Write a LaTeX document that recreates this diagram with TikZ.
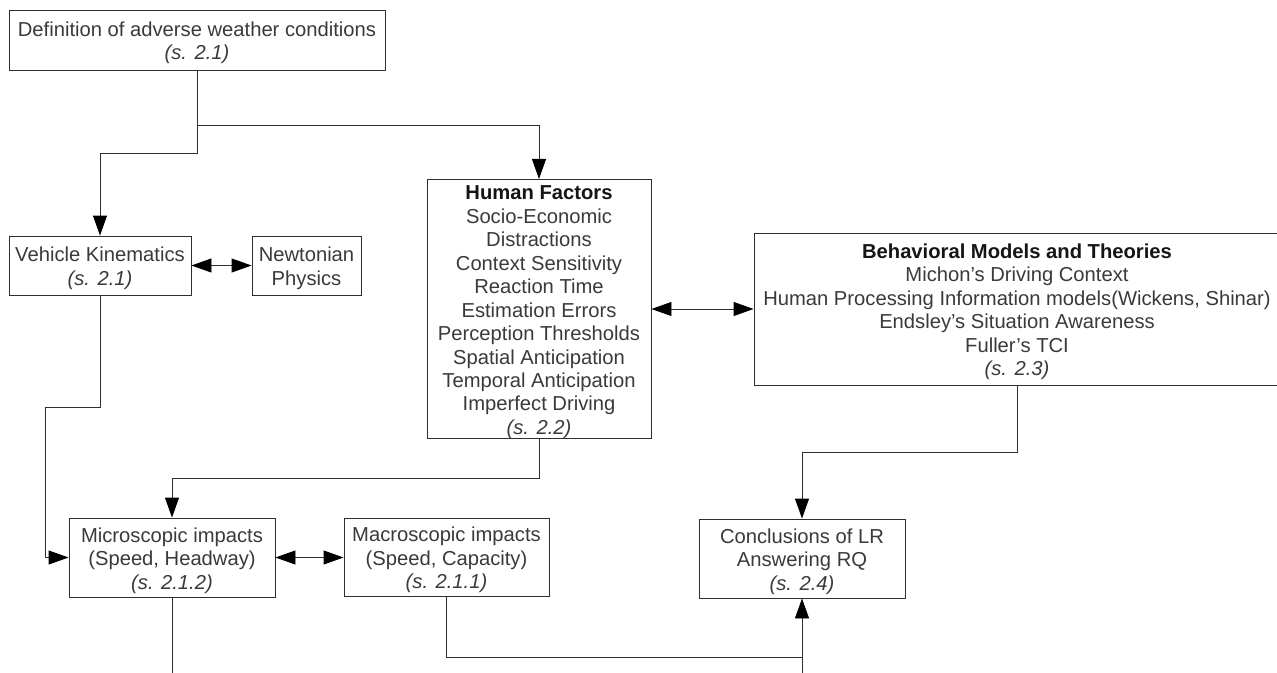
\documentclass[tikz,border=0pt]{standalone}
\usepackage{fontspec}
\setmainfont{Liberation Sans}
\usetikzlibrary{arrows.meta}
\definecolor{txt}{HTML}{3A3A3A}
\definecolor{ttl}{HTML}{151515}
\definecolor{ln}{HTML}{2E2E2E}
\tikzset{
  box/.style={draw=ln, line width=0.9pt, rectangle, inner sep=0pt, align=center,
    text=txt, font=\fontsize{20.2}{23.45}\selectfont},
  conn/.style={draw=ln, line width=0.9pt},
  tip/.tip={Triangle[length=20pt,width=14pt,color=black]},
  arr/.style={conn, -tip},
  darr/.style={conn, tip-tip},
}
% first-line strut: lowers the text block slightly inside its box
\newcommand{\tstrut}{\rule{0pt}{20.5pt}}
\newcommand{\sref}[1]{\textit{(s. #1)}}
\newcommand{\ttlb}[1]{\textcolor{ttl}{\textbf{#1}}}
\begin{document}
\begin{tikzpicture}[x=1pt,y=-1pt]
\useasboundingbox (0,0) rectangle (1277,672);
\fill[white] (0,0) rectangle (1277,672);

% boxes
\node[box, minimum width=376pt, minimum height=60pt] (def) at (197,40)
  {\tstrut Definition of adverse weather conditions\\\sref{2.1}};
\node[box, minimum width=182pt, minimum height=59pt] (veh) at (100,265.5)
  {\tstrut Vehicle Kinematics\\\sref{2.1}};
\node[box, minimum width=109pt, minimum height=59pt] (newt) at (306.5,265.5)
  {\tstrut Newtonian\\Physics};
\node[box, minimum width=224pt, minimum height=258pt] (hf) at (539,309)
  {\tstrut\ttlb{Human Factors}\\Socio-Economic\\Distractions\\Context Sensitivity\\Reaction Time\\
   Estimation Errors\\Perception Thresholds\\Spatial Anticipation\\Temporal Anticipation\\
   Imperfect Driving\\\sref{2.2}};
\node[box, minimum width=526pt, minimum height=152pt] (beh) at (1017,309)
  {\tstrut\ttlb{Behavioral Models and Theories}\\Michon’s Driving Context\\
   Human Processing Information models(Wickens, Shinar)\\
   Endsley’s Situation Awareness\\Fuller’s TCI\\\sref{2.3}};
\node[box, minimum width=206pt, minimum height=79pt] (micro) at (172,557.5)
  {\tstrut Microscopic impacts\\(Speed, Headway)\\\sref{2.1.2}};
\node[box, minimum width=205pt, minimum height=78pt] (macro) at (446.5,557)
  {\tstrut Macroscopic impacts\\(Speed, Capacity)\\\sref{2.1.1}};
\node[box, minimum width=206pt, minimum height=79pt] (concl) at (802,558.5)
  {\tstrut Conclusions of LR\\Answering RQ\\\sref{2.4}};

% junction points of the routed connectors
\coordinate (j1) at (197,125);
\coordinate (j2) at (100,153);
\coordinate (k1) at (45,407);
\coordinate (k2) at (172,478);
\coordinate (k3) at (802,452);
\coordinate (k4) at (802,657);
\coordinate (bm) at (172,690);
\coordinate (bc) at (802,690);

% connectors
\draw[arr] (def.south) -- (j1) -| (hf.north);
\draw[arr] (j1) |- (j2) -- (veh.north);
\draw[darr] (veh.east) -- (newt.west);
\draw[darr] (hf.east |- 0,309) -- (beh.west |- 0,309);
\draw[arr] (veh.south) |- (k1) |- (micro.west);
\draw[arr] (hf.south) |- (k2) -- (micro.north);
\draw[darr] (micro.east) -- (macro.west |- micro.east);
\draw[arr] (beh.south) |- (k3) -- (concl.north);
\draw[conn] (macro.south) |- (k4);
\draw[arr] (bc) -- (concl.south);
\draw[conn] (micro.south) -- (bm);
\end{tikzpicture}
\end{document}
